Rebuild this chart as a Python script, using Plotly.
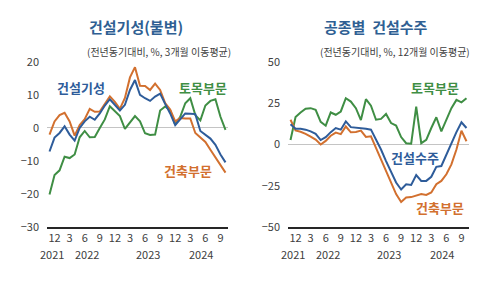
import plotly.graph_objects as go

# Months: Nov 2021 .. Oct 2024 (36 points)
months = []
y, m = 2021, 11
for _ in range(36):
    months.append(f"{y}-{m:02d}")
    m += 1
    if m > 12:
        m = 1
        y += 1

tick_months = ["2021-12", "2022-03", "2022-06", "2022-09", "2022-12", "2023-03",
               "2023-06", "2023-09", "2023-12", "2024-03", "2024-06", "2024-09"]
tick_text = ["12", "3", "6", "9", "12", "3", "6", "9", "12", "3", "6", "9"]
year_labels = ["2021", "2022", "2023", "2024"]
year_pos = [0.5, 7.5, 19.5, 30.1]

# Left chart: 건설기성(불변), 3개월 이동평균
left_total = [-7.1, -2.9, -1.5, 0.5, -2.0, -3.8, 0.0, 2.0, 3.4, 2.5, 4.4, 6.8,
              8.7, 7.0, 5.3, 7.0, 11.5, 14.5, 10.0, 9.0, 8.2, 9.5, 10.4, 7.3,
              4.4, 0.9, 2.7, 4.4, 4.3, 4.2, -0.9, -2.0, -3.2, -5.1, -8.0, -10.4]
left_build = [-2.0, 2.0, 3.9, 4.6, 2.0, -2.3, 0.9, 2.7, 5.8, 4.9, 5.0, 7.2,
              9.6, 7.9, 5.8, 9.1, 15.3, 18.4, 12.8, 12.7, 11.5, 13.4, 11.5, 7.5,
              5.6, 2.0, 3.0, 2.9, 2.9, -1.5, -2.8, -4.2, -6.6, -9.0, -11.5, -13.5]
left_civil = [-20.1, -14.2, -12.8, -8.7, -9.1, -8.0, -2.8, -0.9, -2.8, -2.7, 0.0, 2.6,
              6.6, 5.0, 3.6, -0.3, 1.6, 3.6, 2.0, -1.6, -2.1, -2.0, 5.3, 6.5,
              5.3, 1.0, 3.4, 7.5, 9.0, 3.9, 2.3, 6.8, 8.2, 8.7, 3.4, -0.6]

# Right chart: 공종별 건설수주, 12개월 이동평균
right_total = [12.2, 9.5, 9.5, 9.0, 8.0, 6.5, 2.7, 4.5, 7.5, 10.0, 9.0, 14.0,
               10.5, 10.3, 10.0, 9.5, 9.0, 3.0, -3.0, -10.0, -17.0, -23.0, -27.2, -24.0,
               -24.5, -18.5, -22.0, -22.0, -19.5, -13.5, -13.0, -6.0, 1.0, 7.5, 13.5, 10.0]
right_build = [15.0, 8.5, 7.7, 6.5, 4.8, 3.0, 0.0, 2.2, 5.3, 7.2, 6.3, 10.9,
               7.4, 7.6, 8.4, 4.6, 5.0, -2.0, -9.0, -17.0, -24.0, -30.0, -34.8, -32.0,
               -31.8, -31.0, -30.0, -30.5, -29.0, -24.0, -22.0, -18.0, -12.0, -3.0, 8.3, 2.0]
right_civil = [2.7, 16.6, 19.4, 21.7, 22.0, 21.0, 13.7, 11.4, 19.4, 18.0, 20.0, 28.0,
               26.0, 22.0, 14.8, 27.4, 23.5, 15.0, 15.5, 18.5, 13.0, 11.5, 4.5, 0.8,
               0.5, 23.0, 0.8, 2.8, 10.0, 16.5, 8.0, 15.0, 22.0, 27.0, 25.5, 28.0]

BLUE = "#2E5C9A"
ORANGE = "#D2702F"
GREEN = "#3F8E44"
TITLE = "#2F5F93"
TXT = "#404040"
FONT = "Noto Sans CJK KR"

fig = go.Figure()
for vals, col, xa, ya in [
    (left_civil, GREEN, "x", "y"), (left_build, ORANGE, "x", "y"), (left_total, BLUE, "x", "y"),
    (right_civil, GREEN, "x2", "y2"), (right_build, ORANGE, "x2", "y2"), (right_total, BLUE, "x2", "y2"),
]:
    fig.add_trace(go.Scatter(x=months, y=vals, mode="lines", line=dict(color=col, width=2),
                             xaxis=xa, yaxis=ya, showlegend=False, hoverinfo="skip"))

ydom = [1 - 231 / 288, 1 - 56 / 288]
xcommon = dict(type="category", categoryorder="array", categoryarray=months,
               range=[-0.5, 35.5], tickmode="array", tickvals=tick_months, ticktext=tick_text,
               showline=True, linecolor="#262626", linewidth=2, showgrid=False, zeroline=False,
               ticks="", tickfont=dict(size=11, color=TXT, family=FONT), fixedrange=True)
ycommon = dict(showgrid=False, zeroline=True, zerolinecolor="#C4C4C4", zerolinewidth=1,
               showline=False, ticks="", tickfont=dict(size=11, color=TXT, family=FONT),
               ticklabelstandoff=7, fixedrange=True)

fig.update_layout(
    width=500, height=288, margin=dict(l=0, r=0, t=0, b=0),
    paper_bgcolor="white", plot_bgcolor="white",
    font=dict(family=FONT, color=TXT),
    xaxis=dict(domain=[47 / 500, 228 / 500], anchor="y", **xcommon),
    yaxis=dict(domain=ydom, anchor="x", range=[-30, 20], tickvals=[-30, -20, -10, 0, 10, 20], **ycommon),
    xaxis2=dict(domain=[288 / 500, 469 / 500], anchor="y2", **xcommon),
    yaxis2=dict(domain=ydom, anchor="x2", range=[-50, 50], tickvals=[-50, -25, 0, 25, 50], **ycommon),
)

ann = []
def paper_text(x, y, text, size, color, bold=False):
    ann.append(dict(xref="paper", yref="paper", x=x / 500, y=1 - y / 288, text=f"<b>{text}</b>" if bold else text,
                    showarrow=False, font=dict(size=size, color=color, family=FONT),
                    xanchor="center", yanchor="middle"))

paper_text(136, 19, "건설기성(불변)", 15, TITLE, True)
paper_text(376, 19, "공종별  건설수주", 15, TITLE, True)
paper_text(159, 45, "(전년동기대비, %, 3개월 이동평균)", 10, TXT)
paper_text(395, 45, "(전년동기대비, %, 12개월 이동평균)", 10, TXT)
paper_text(81, 83, "건설기성", 13, BLUE, True)
paper_text(203, 83, "토목부문", 13, GREEN, True)
paper_text(188, 171, "건축부문", 13, ORANGE, True)
paper_text(435, 83, "토목부문", 13, GREEN, True)
paper_text(415, 157, "건설수주", 13, BLUE, True)
paper_text(440, 210, "건축부문", 13, ORANGE, True)

for xa in ["x", "x2"]:
    for lab, pos in zip(year_labels, year_pos):
        ann.append(dict(xref=xa, yref="paper", x=pos, y=1 - 249 / 288, text=lab, showarrow=False,
                        font=dict(size=11, color=TXT, family=FONT), xanchor="center", yanchor="top"))

fig.update_layout(annotations=ann)
fig.write_html("out.html")
